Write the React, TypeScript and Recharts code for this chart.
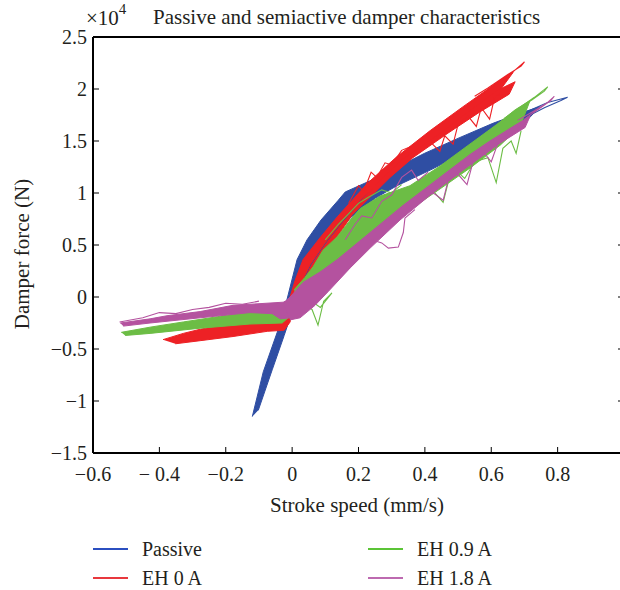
import { ComposedChart, Scatter, XAxis, YAxis } from 'recharts'

const FONT = '"Liberation Serif", "DejaVu Serif", serif'
const INK = '#231f20'

const xTicks = [-0.6, -0.4, -0.2, 0, 0.2, 0.4, 0.6, 0.8, 1]
const xTickLabels = ['−0.6', '− 0.4', '−0.2', '0', '0.2', '0.4', '0.6', '0.8', '1']
const yTicks = [-1.5, -1, -0.5, 0, 0.5, 1, 1.5, 2, 2.5]
const yTickLabels = ['−1.5', '−1', '−0.5', '0', '0.5', '1', '1.5', '2', '2.5']

const seriesNames = ['Passive', 'EH 0 A', 'EH 0.9 A', 'EH 1.8 A']
const seriesColors = ['#2f4ea3', '#ed2125', '#6cbd45', '#b4529f']
const legendColors = ['#2b4fc0', '#e8383d', '#5bc436', '#bd6ab0']

// stroke speed (mm/s), damper force (x10^4 N)
const passiveBand = [
  [-0.12, -1.15], [-0.087, -0.72], [-0.045, -0.34], [-0.024, -0.13], [-0.012, 0.02], [0.003, 0.21],
  [0.015, 0.36], [0.045, 0.55], [0.087, 0.74], [0.139, 0.93], [0.16, 1.01], [0.244, 1.13],
  [0.398, 1.38], [0.503, 1.53], [0.605, 1.67], [0.69, 1.77], [0.747, 1.83], [0.702, 1.68],
  [0.596, 1.5], [0.515, 1.38], [0.416, 1.22], [0.316, 1.07], [0.25, 0.95], [0.175, 0.76],
  [0.114, 0.53], [0.06, 0.28], [0.024, 0.07], [0.012, -0.03], [-0.003, -0.17], [-0.024, -0.37],
  [-0.06, -0.7], [-0.102, -1.09],
]
const passiveTip = [
  [0.66, 1.72], [0.72, 1.8], [0.77, 1.87], [0.83, 1.92], [0.81, 1.89], [0.76, 1.82], [0.7, 1.72], [0.64, 1.64],
]

const eh0Left = [
  [-0.389, -0.41], [-0.328, -0.35], [-0.277, -0.31], [-0.178, -0.25], [-0.075, -0.23], [-0.036, -0.2],
  [-0.015, -0.15], [-0.003, -0.13], [-0.006, -0.24], [-0.024, -0.32], [-0.075, -0.33], [-0.178, -0.38],
  [-0.277, -0.42], [-0.352, -0.45],
]
const eh0UpperBand = [
  [-0.009, -0.03], [0.009, 0.16], [0.033, 0.36], [0.084, 0.57], [0.136, 0.77], [0.184, 0.94],
  [0.226, 1.09], [0.274, 1.23], [0.316, 1.35], [0.416, 1.6], [0.515, 1.83], [0.617, 2.06],
  [0.666, 2.16], [0.627, 1.99], [0.536, 1.78], [0.446, 1.56], [0.34, 1.32], [0.265, 1.11],
  [0.205, 0.93], [0.154, 0.74], [0.099, 0.52], [0.054, 0.31], [0.018, 0.07], [0.0, -0.08],
]
const eh0LowerBand = [
  [0.005, -0.06], [0.023, 0.07], [0.059, 0.31], [0.104, 0.52], [0.159, 0.74], [0.21, 0.93],
  [0.262, 1.11], [0.33, 1.32], [0.44, 1.56], [0.53, 1.78], [0.62, 1.99], [0.672, 2.07],
  [0.654, 1.95], [0.566, 1.78], [0.467, 1.57], [0.364, 1.34], [0.295, 1.15], [0.235, 0.96],
  [0.181, 0.79], [0.136, 0.58], [0.084, 0.33], [0.033, 0.07], [0.012, -0.08],
]
const eh0Tip = [
  [0.55, 1.9], [0.61, 2.04], [0.66, 2.15], [0.7, 2.26], [0.69, 2.22], [0.65, 2.14], [0.59, 2.01], [0.55, 1.93],
]
const eh0Spikes = [
  [0.42, 1.48], [0.445, 1.4], [0.46, 1.55], [0.485, 1.47], [0.5, 1.66], [0.53, 1.74], [0.555, 1.64],
  [0.57, 1.82], [0.595, 1.71], [0.61, 1.92], [0.625, 1.95],
]
const eh0Zigzag = [
  [0.17, 0.9], [0.2, 1.07], [0.215, 1.01], [0.238, 1.2], [0.255, 1.15], [0.28, 1.29], [0.3, 1.27],
  [0.33, 1.41], [0.36, 1.45],
]

const eh09Left = [
  [-0.515, -0.34], [-0.428, -0.29], [-0.328, -0.24], [-0.226, -0.19], [-0.127, -0.14], [-0.081, -0.13],
  [-0.036, -0.14], [-0.012, -0.2], [-0.03, -0.25], [-0.127, -0.26], [-0.277, -0.3], [-0.428, -0.35],
  [-0.503, -0.37],
]
const eh09Band = [
  [0.006, 0.07], [0.039, 0.19], [0.063, 0.29], [0.093, 0.45], [0.136, 0.58], [0.175, 0.74],
  [0.205, 0.85], [0.265, 0.97], [0.355, 1.07], [0.446, 1.26], [0.527, 1.45], [0.617, 1.66],
  [0.672, 1.8], [0.717, 1.89], [0.687, 1.64], [0.627, 1.46], [0.536, 1.24], [0.446, 1.04],
  [0.355, 0.84], [0.265, 0.66], [0.175, 0.43], [0.099, 0.21], [0.039, 0.04], [0.012, -0.05],
]
const eh09Tip = [
  [0.64, 1.72], [0.69, 1.83], [0.73, 1.92], [0.77, 2.02], [0.76, 1.98], [0.72, 1.89], [0.68, 1.79], [0.64, 1.7],
]
const eh09Spikes = [
  [0.4, 1.06], [0.43, 1.0], [0.455, 0.91], [0.47, 1.1], [0.5, 1.2], [0.52, 1.14], [0.55, 1.3],
  [0.59, 1.34], [0.615, 1.1], [0.635, 1.43], [0.66, 1.5], [0.675, 1.38], [0.69, 1.6],
]
const eh09Kink = [
  [0.03, -0.06], [0.06, -0.12], [0.078, -0.27], [0.095, -0.04], [0.12, 0.04], [0.085, -0.1], [0.05, -0.02],
]
const eh09Zigzag = [
  [0.1, 0.55], [0.14, 0.7], [0.17, 0.8], [0.2, 0.9], [0.23, 0.96], [0.27, 1.03], [0.3, 1.0], [0.33, 1.08],
]

const eh18Left = [
  [-0.518, -0.25], [-0.428, -0.21], [-0.377, -0.18], [-0.277, -0.14], [-0.178, -0.08], [-0.127, -0.07],
  [-0.027, -0.05], [0.003, -0.01], [0.018, -0.08], [-0.006, -0.2], [-0.036, -0.21], [-0.06, -0.16],
  [-0.127, -0.15], [-0.277, -0.2], [-0.428, -0.25], [-0.509, -0.28],
]
const eh18LeftWave = [
  [-0.52, -0.24], [-0.45, -0.2], [-0.4, -0.15], [-0.35, -0.16], [-0.3, -0.12], [-0.25, -0.1],
  [-0.2, -0.06], [-0.15, -0.07], [-0.1, -0.04],
]
const eh18Band = [
  [-0.027, -0.06], [-0.006, 0.0], [0.033, 0.14], [0.084, 0.24], [0.136, 0.36], [0.235, 0.62],
  [0.334, 0.88], [0.437, 1.13], [0.536, 1.37], [0.596, 1.5], [0.666, 1.64], [0.717, 1.74],
  [0.702, 1.63], [0.627, 1.48], [0.515, 1.22], [0.416, 0.98], [0.325, 0.74], [0.235, 0.47],
  [0.175, 0.28], [0.108, 0.05], [0.069, -0.08], [0.024, -0.2], [-0.006, -0.22],
]
const eh18Tip = [
  [0.68, 1.7], [0.73, 1.79], [0.77, 1.87], [0.79, 1.93], [0.78, 1.89], [0.74, 1.8], [0.7, 1.71],
]
const eh18Loop = [
  [0.24, 0.55], [0.27, 0.52], [0.29, 0.47], [0.32, 0.48], [0.335, 0.62], [0.34, 0.76], [0.37, 0.84],
]
const eh18Wave = [
  [0.16, 0.55], [0.19, 0.7], [0.21, 0.78], [0.24, 0.76], [0.27, 0.92], [0.3, 0.98], [0.33, 1.15],
  [0.36, 1.22], [0.38, 1.12], [0.41, 1.2],
]
const eh18Spikes = [
  [0.4, 1.02], [0.43, 0.99], [0.455, 0.93], [0.47, 1.12], [0.5, 1.18], [0.527, 1.08], [0.545, 1.3],
  [0.58, 1.38], [0.6, 1.3], [0.62, 1.48],
]

// draw order: passive, EH 0 A, EH 0.9 A, EH 1.8 A
const traces: { pts: number[][]; series: number; filled: boolean }[] = [
  { pts: passiveBand, series: 0, filled: true },
  { pts: passiveTip, series: 0, filled: false },
  { pts: eh0Left, series: 1, filled: true },
  { pts: eh0UpperBand, series: 1, filled: true },
  { pts: eh0LowerBand, series: 1, filled: true },
  { pts: eh0Tip, series: 1, filled: false },
  { pts: eh0Spikes, series: 1, filled: false },
  { pts: eh0Zigzag, series: 1, filled: false },
  { pts: eh09Left, series: 2, filled: true },
  { pts: eh09Band, series: 2, filled: true },
  { pts: eh09Tip, series: 2, filled: false },
  { pts: eh09Spikes, series: 2, filled: false },
  { pts: eh09Kink, series: 2, filled: false },
  { pts: eh09Zigzag, series: 2, filled: false },
  { pts: eh18Left, series: 3, filled: true },
  { pts: eh18LeftWave, series: 3, filled: false },
  { pts: eh18Band, series: 3, filled: true },
  { pts: eh18Tip, series: 3, filled: false },
  { pts: eh18Loop, series: 3, filled: false },
  { pts: eh18Wave, series: 3, filled: false },
  { pts: eh18Spikes, series: 3, filled: false },
]

const toPoints = (pts: number[][]) => pts.map(([x, y]) => ({ x, y }))
const noDot = () => <g />

const tickStyle = { fill: INK, fontSize: 20, fontFamily: FONT }

export default function App() {
  return (
    <div
      style={{
        position: 'absolute',
        left: 0,
        top: 0,
        width: 620,
        height: 590,
        overflow: 'hidden',
        background: '#fff',
        fontFamily: FONT,
        color: INK,
      }}
    >
      <ComposedChart width={640} height={590} margin={{ top: 36, right: 15, bottom: 0, left: 0 }}>
        <XAxis
          xAxisId="b"
          type="number"
          dataKey="x"
          domain={[-0.6, 1]}
          ticks={xTicks}
          allowDataOverflow
          height={137}
          tickSize={-6}
          tickMargin={20}
          tick={tickStyle}
          tickLine={{ stroke: '#000' }}
          axisLine={{ stroke: '#000', strokeWidth: 2 }}
          tickFormatter={(v: number) => xTickLabels[xTicks.indexOf(v)] ?? ''}
        />
        <XAxis
          xAxisId="t"
          orientation="top"
          type="number"
          domain={[-0.6, 1]}
          ticks={xTicks}
          allowDataOverflow
          height={1}
          tickSize={-6}
          tickLine={{ stroke: '#000' }}
          axisLine={{ stroke: '#000', strokeWidth: 2 }}
          tickFormatter={() => ''}
        />
        <YAxis
          yAxisId="l"
          type="number"
          dataKey="y"
          domain={[-1.5, 2.5]}
          ticks={yTicks}
          allowDataOverflow
          width={93}
          tickSize={-6}
          tickMargin={12}
          tick={tickStyle}
          tickLine={{ stroke: '#000' }}
          axisLine={{ stroke: '#000', strokeWidth: 2 }}
          tickFormatter={(v: number) => yTickLabels[yTicks.indexOf(v)] ?? ''}
        />
        <YAxis
          yAxisId="r"
          orientation="right"
          type="number"
          domain={[-1.5, 2.5]}
          ticks={yTicks}
          allowDataOverflow
          width={1}
          tickSize={-6}
          tickLine={{ stroke: '#000' }}
          axisLine={{ stroke: '#000', strokeWidth: 2 }}
          tickFormatter={() => ''}
        />
        {traces.map((t, i) => {
          const color = seriesColors[t.series]
          return (
            <Scatter
              key={i}
              xAxisId="b"
              yAxisId="l"
              data={toPoints(t.pts)}
              fill={color}
              shape={noDot}
              line={
                t.filled
                  ? { fill: color, stroke: color, strokeWidth: 1 }
                  : { fill: 'none', stroke: color, strokeWidth: 1.1 }
              }
              legendType="none"
              isAnimationActive={false}
            />
          )
        })}
      </ComposedChart>

      <div style={{ position: 'absolute', left: 86, top: 6, fontSize: 21, lineHeight: '24px' }}>
        ×10<sup style={{ fontSize: 15, verticalAlign: 'top', lineHeight: '12px', position: 'relative', top: -3 }}>4</sup>
      </div>
      <div style={{ position: 'absolute', left: 153, top: 5, fontSize: 21, lineHeight: '24px', whiteSpace: 'nowrap' }}>
        Passive and semiactive damper characteristics
      </div>
      <div
        style={{
          position: 'absolute',
          left: 22,
          top: 254,
          fontSize: 21,
          whiteSpace: 'nowrap',
          transform: 'translate(-50%, -50%) rotate(-90deg)',
        }}
      >
        Damper force (N)
      </div>
      <div
        style={{
          position: 'absolute',
          left: 357,
          top: 505,
          fontSize: 21,
          whiteSpace: 'nowrap',
          transform: 'translate(-50%, -50%)',
        }}
      >
        Stroke speed (mm/s)
      </div>

      {seriesNames.map((name, i) => {
        const col = i < 2 ? 0 : 1
        const row = i % 2
        const left = col === 0 ? 93 : 368
        const top = row === 0 ? 549 : 578
        return (
          <div key={name} style={{ position: 'absolute', left, top: top - 12, height: 24, display: 'flex', alignItems: 'center' }}>
            <div style={{ width: 35, height: 2, background: legendColors[i] }} />
            <span style={{ marginLeft: 14, fontSize: 20, whiteSpace: 'nowrap' }}>{name}</span>
          </div>
        )
      })}
    </div>
  )
}
